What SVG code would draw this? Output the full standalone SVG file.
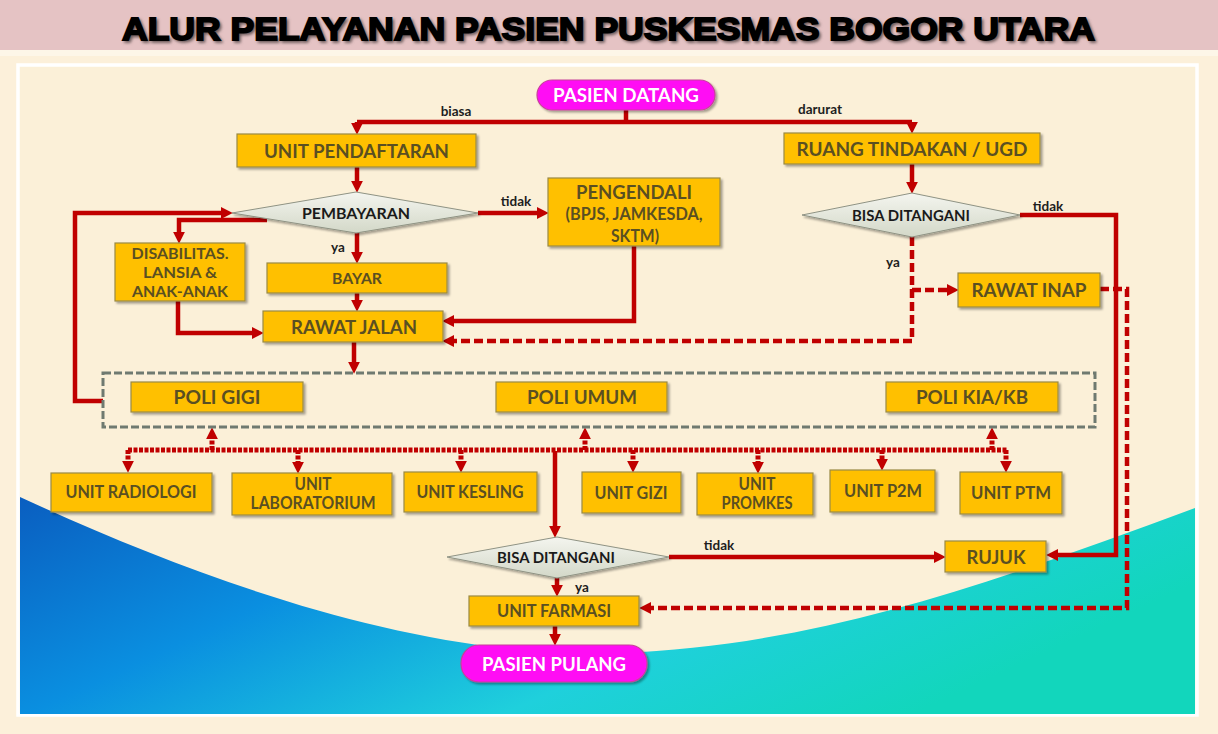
<svg xmlns="http://www.w3.org/2000/svg" width="1218" height="734" viewBox="0 0 1218 734">
<style>
.box{fill:#ffc000;stroke:#9a8a45;stroke-width:1.2}
.dia{fill:url(#dg);stroke:#8f9384;stroke-width:1}
.pill{fill:#ff10f4;stroke:#c8409a;stroke-width:1.2}
.t{font-family:Lato,"Liberation Sans",sans-serif;font-weight:700;fill:#5a4f22;text-anchor:middle}
.tw{font-family:Lato,"Liberation Sans",sans-serif;font-weight:700;fill:#ffffff;text-anchor:middle}
.td{font-family:Lato,"Liberation Sans",sans-serif;font-weight:700;fill:#1a1a1a;text-anchor:middle}
.lb{font-family:Lato,"Liberation Sans",sans-serif;font-weight:700;fill:#1e1e1e;font-size:13.5px;text-anchor:middle}
.s{fill:none;stroke:#c00000;stroke-width:4.5}
.d{fill:none;stroke:#c00000;stroke-width:4.5;stroke-dasharray:9 4}
.o{fill:none;stroke:#c00000;stroke-width:5;stroke-dasharray:4 1.5}
</style>
<defs>
<linearGradient id="bg1" x1="0" y1="0" x2="1" y2="0.4">
<stop offset="0" stop-color="#0a5ec0"/>
<stop offset="0.35" stop-color="#0a8fe0"/>
<stop offset="0.7" stop-color="#1fd0dc"/>
<stop offset="1" stop-color="#12d6bc"/>
</linearGradient>
<linearGradient id="dg" x1="0" y1="0" x2="0" y2="1">
<stop offset="0" stop-color="#f4f5ef"/>
<stop offset="1" stop-color="#d3d8c8"/>
</linearGradient>
<filter id="sh" x="-10%" y="-20%" width="130%" height="160%">
<feDropShadow dx="2" dy="2" stdDeviation="1.2" flood-color="#000" flood-opacity="0.35"/>
</filter>
<filter id="tsh" x="-5%" y="-30%" width="110%" height="160%">
<feGaussianBlur stdDeviation="1.5"/>
</filter>
<marker id="ah" viewBox="0 0 10 10" refX="1" refY="5" markerWidth="12" markerHeight="12" markerUnits="userSpaceOnUse" orient="auto">
<path d="M0,0 L10,5 L0,10 z" fill="#c00000"/>
</marker>
</defs>

<!-- background -->
<rect x="0" y="0" width="1218" height="734" fill="#fcf0da"/>
<rect x="0" y="0" width="1218" height="50" fill="#e5c3c4"/>
<rect x="0" y="50" width="1218" height="6" fill="#fdf6e8"/>
<rect x="18" y="65" width="1179" height="650" fill="#fbf0d8" stroke="#ffffff" stroke-width="3.5"/>
<path d="M20,497 C200,580 420,660 620,653 C820,646 1000,580 1195,508 L1195,714 L20,714 Z" fill="url(#bg1)"/>
<text x="124" y="42" font-family="'Liberation Sans',Arial,sans-serif" font-weight="700" font-size="32" fill="#6a5a5a" stroke="#6a5a5a" stroke-width="1.5" textLength="973" lengthAdjust="spacingAndGlyphs" filter="url(#tsh)">ALUR PELAYANAN PASIEN PUSKESMAS BOGOR UTARA</text>
<text x="122" y="40" font-family="'Liberation Sans',Arial,sans-serif" font-weight="700" font-size="32" fill="#000" stroke="#000" stroke-width="1.8" textLength="973" lengthAdjust="spacingAndGlyphs">ALUR PELAYANAN PASIEN PUSKESMAS BOGOR UTARA</text>

<!-- connectors -->
<g id="connectors">
<path class="s" d="M626,110 V122"/>
<path class="s" d="M357,122 H912"/>
<path class="s" d="M357,122 V124" marker-end="url(#ah)"/>
<path class="s" d="M912,122 V123" marker-end="url(#ah)"/>
<path class="s" d="M357,167 V182" marker-end="url(#ah)"/>
<path class="s" d="M912,164 V183" marker-end="url(#ah)"/>
<path class="s" d="M478,213 H538" marker-end="url(#ah)"/>
<path class="s" d="M357,233 V253" marker-end="url(#ah)"/>
<path class="s" d="M357,293 V301" marker-end="url(#ah)"/>
<path class="s" d="M267,220 H179 V233" marker-end="url(#ah)"/>
<path class="s" d="M178,301 V333 H253" marker-end="url(#ah)"/>
<path class="s" d="M634,246 V321 H453" marker-end="url(#ah)"/>
<path class="s" d="M354,342 V363" marker-end="url(#ah)"/>
<path class="s" d="M103,401 H75 V213 H222" marker-end="url(#ah)"/>
<path class="d" d="M912,237 V341 H453" marker-end="url(#ah)"/>
<path class="d" d="M912,290 H948" marker-end="url(#ah)"/>
<path class="s" d="M1020,215 H1116 V555 H1057" marker-end="url(#ah)"/>
<path class="d" d="M1100,289 H1127 V608 H650" marker-end="url(#ah)"/>
<path class="o" d="M128,450 H1008"/>
<path class="o" d="M128,450 V462" marker-end="url(#ah)"/>
<path class="o" d="M298,450 V463" marker-end="url(#ah)"/>
<path class="o" d="M461,450 V462" marker-end="url(#ah)"/>
<path class="o" d="M633,450 V462" marker-end="url(#ah)"/>
<path class="o" d="M758,450 V463" marker-end="url(#ah)"/>
<path class="o" d="M882,450 V460" marker-end="url(#ah)"/>
<path class="o" d="M1006,450 V462" marker-end="url(#ah)"/>
<path class="o" d="M212,450 V438" marker-end="url(#ah)"/>
<path class="o" d="M585,450 V438" marker-end="url(#ah)"/>
<path class="o" d="M992,450 V438" marker-end="url(#ah)"/>
<path class="s" d="M555,451 V527" marker-end="url(#ah)"/>
<path class="s" d="M669,557 H935" marker-end="url(#ah)"/>
<path class="s" d="M557,578 V586" marker-end="url(#ah)"/>
<path class="s" d="M555,626 V635" marker-end="url(#ah)"/>
<text class="lb" x="456" y="116">biasa</text>
<text class="lb" x="820" y="114">darurat</text>
<text class="lb" x="516" y="206">tidak</text>
<text class="lb" x="338" y="252">ya</text>
<text class="lb" x="1048" y="211">tidak</text>
<text class="lb" x="893" y="267">ya</text>
<text class="lb" x="719" y="550">tidak</text>
<text class="lb" x="582" y="592">ya</text>
</g>

<!-- nodes -->
<g id="n-pasien-datang"><rect class="pill" x="537" y="80" width="178" height="30" rx="15" filter="url(#sh)"/><text class="tw" x="626" y="101.5" font-size="18.5" textLength="146" lengthAdjust="spacingAndGlyphs">PASIEN DATANG</text></g>
<g id="n-pendaftaran"><rect class="box" x="237" y="134" width="239" height="33" filter="url(#sh)"/><text class="t" x="356.5" y="157.5" font-size="19" textLength="185" lengthAdjust="spacingAndGlyphs">UNIT PENDAFTARAN</text></g>
<g id="n-ugd"><rect class="box" x="784" y="133" width="256" height="31" filter="url(#sh)"/><text class="t" x="912" y="155.5" font-size="19" textLength="231" lengthAdjust="spacingAndGlyphs">RUANG TINDAKAN / UGD</text></g>
<g id="n-pembayaran"><polygon class="dia" points="232,213 356,192 478,213 356,233" filter="url(#sh)"/><text class="td" x="356" y="219" font-size="16" textLength="108" lengthAdjust="spacingAndGlyphs">PEMBAYARAN</text></g>
<g id="n-pengendali"><rect class="box" x="548" y="178" width="172" height="68" filter="url(#sh)"/>
<text class="t" x="634" y="199" font-size="19" textLength="116" lengthAdjust="spacingAndGlyphs">PENGENDALI</text>
<text class="t" x="634" y="220" font-size="16.5" textLength="137" lengthAdjust="spacingAndGlyphs">(BPJS, JAMKESDA,</text>
<text class="t" x="635" y="242" font-size="16.5" textLength="48" lengthAdjust="spacingAndGlyphs">SKTM)</text></g>
<g id="n-disabilitas"><rect class="box" x="115" y="243" width="130" height="58" filter="url(#sh)"/>
<text class="t" x="180" y="258.5" font-size="16" textLength="97" lengthAdjust="spacingAndGlyphs">DISABILITAS.</text>
<text class="t" x="180" y="277.5" font-size="16" textLength="74" lengthAdjust="spacingAndGlyphs">LANSIA &amp;</text>
<text class="t" x="180" y="296.5" font-size="16" textLength="96" lengthAdjust="spacingAndGlyphs">ANAK-ANAK</text></g>
<g id="n-bayar"><rect class="box" x="267" y="263" width="180" height="30" filter="url(#sh)"/><text class="t" x="357" y="284" font-size="16" textLength="50" lengthAdjust="spacingAndGlyphs">BAYAR</text></g>
<g id="n-rawat-jalan"><rect class="box" x="263" y="311" width="180" height="31" filter="url(#sh)"/><text class="t" x="354" y="333.5" font-size="19" textLength="126" lengthAdjust="spacingAndGlyphs">RAWAT JALAN</text></g>
<g id="n-bisa-ditangani-1"><polygon class="dia" points="802,215 912,193 1020,215 912,237" filter="url(#sh)"/><text class="td" x="911" y="220.5" font-size="15" textLength="118" lengthAdjust="spacingAndGlyphs">BISA DITANGANI</text></g>
<g id="n-rawat-inap"><rect class="box" x="958" y="273" width="142" height="34" filter="url(#sh)"/><text class="t" x="1029" y="297" font-size="19" textLength="115" lengthAdjust="spacingAndGlyphs">RAWAT INAP</text></g>
<g id="n-poli"><rect x="103" y="373" width="992" height="54" fill="none" stroke="#6f7a70" stroke-width="3" stroke-dasharray="8 3"/></g>
<g id="n-poli-gigi"><rect class="box" x="131" y="382" width="172" height="30" filter="url(#sh)"/><text class="t" x="217" y="403.5" font-size="18" textLength="87" lengthAdjust="spacingAndGlyphs">POLI GIGI</text></g>
<g id="n-poli-umum"><rect class="box" x="496" y="382" width="171" height="30" filter="url(#sh)"/><text class="t" x="582" y="403.5" font-size="18" textLength="110" lengthAdjust="spacingAndGlyphs">POLI UMUM</text></g>
<g id="n-poli-kia"><rect class="box" x="886" y="382" width="172" height="30" filter="url(#sh)"/><text class="t" x="972" y="403.5" font-size="18" textLength="112" lengthAdjust="spacingAndGlyphs">POLI KIA/KB</text></g>
<g id="n-radiologi"><rect class="box" x="51" y="473" width="161" height="39" filter="url(#sh)"/><text class="t" x="131" y="498" font-size="16.5" textLength="131" lengthAdjust="spacingAndGlyphs">UNIT RADIOLOGI</text></g>
<g id="n-laboratorium"><rect class="box" x="232" y="473" width="160" height="42" filter="url(#sh)"/>
<text class="t" x="313" y="490" font-size="16.5" textLength="37" lengthAdjust="spacingAndGlyphs">UNIT</text>
<text class="t" x="313" y="509" font-size="16.5" textLength="125" lengthAdjust="spacingAndGlyphs">LABORATORIUM</text></g>
<g id="n-kesling"><rect class="box" x="404" y="472" width="133" height="40" filter="url(#sh)"/><text class="t" x="470" y="498" font-size="16.5" textLength="107" lengthAdjust="spacingAndGlyphs">UNIT KESLING</text></g>
<g id="n-gizi"><rect class="box" x="582" y="472" width="99" height="41" filter="url(#sh)"/><text class="t" x="631" y="499" font-size="16.5" textLength="73" lengthAdjust="spacingAndGlyphs">UNIT GIZI</text></g>
<g id="n-promkes"><rect class="box" x="697" y="473" width="116" height="42" filter="url(#sh)"/>
<text class="t" x="757" y="490" font-size="16.5" textLength="37" lengthAdjust="spacingAndGlyphs">UNIT</text>
<text class="t" x="757" y="509" font-size="16.5" textLength="71" lengthAdjust="spacingAndGlyphs">PROMKES</text></g>
<g id="n-p2m"><rect class="box" x="830" y="470" width="105" height="42" filter="url(#sh)"/><text class="t" x="883" y="497" font-size="16.5" textLength="78" lengthAdjust="spacingAndGlyphs">UNIT P2M</text></g>
<g id="n-ptm"><rect class="box" x="960" y="472" width="102" height="42" filter="url(#sh)"/><text class="t" x="1011" y="499" font-size="16.5" textLength="80" lengthAdjust="spacingAndGlyphs">UNIT PTM</text></g>
<g id="n-bisa-ditangani-2"><polygon class="dia" points="447,557 557,537 669,557 557,578" filter="url(#sh)"/><text class="td" x="556" y="562.5" font-size="15" textLength="118" lengthAdjust="spacingAndGlyphs">BISA DITANGANI</text></g>
<g id="n-rujuk"><rect class="box" x="945" y="541" width="101" height="31" filter="url(#sh)"/><text class="t" x="996" y="563.5" font-size="18" textLength="59" lengthAdjust="spacingAndGlyphs">RUJUK</text></g>
<g id="n-farmasi"><rect class="box" x="469" y="596" width="170" height="30" filter="url(#sh)"/><text class="t" x="554" y="617" font-size="16.5" textLength="114" lengthAdjust="spacingAndGlyphs">UNIT FARMASI</text></g>
<g id="n-pasien-pulang"><rect class="pill" x="461" y="645" width="186" height="37" rx="18" filter="url(#sh)"/><text class="tw" x="554" y="670.5" font-size="18.5" textLength="144" lengthAdjust="spacingAndGlyphs">PASIEN PULANG</text></g>
</svg>
